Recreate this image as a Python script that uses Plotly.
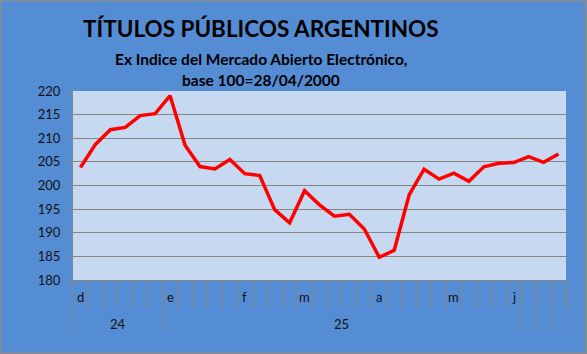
import plotly.graph_objects as go

# ---- data ----
values = [203.8, 208.7, 211.8, 212.3, 214.8, 215.2, 219.0, 208.5, 204.0, 203.5,
          205.5, 202.5, 202.1, 194.9, 192.1, 198.9, 195.9, 193.5, 193.9, 190.8,
          184.8, 186.3, 198.0, 203.45, 201.35, 202.6, 200.9, 203.95, 204.7, 204.85,
          206.1, 204.9, 206.65]
month_labels = ["d", "", "", "", "", "", "e", "", "", "", "", "f", "", "", "", "m",
                "", "", "", "", "a", "", "", "", "", "m", "", "", "", "j", "", "", ""]
year_labels = ["24", "25", "", "", ""]
year_starts = [0, 6, 30, 31, 32]   # first category index of each year group
year_ends = [5, 29, 30, 31, 32]    # last category index of each year group

title = "TÍTULOS PÚBLICOS ARGENTINOS"
subtitle1 = "Ex Indice del Mercado Abierto Electrónico,"
subtitle2 = "base 100=28/04/2000"

# ---- layout constants (pixels) ----
W, H = 587, 354
L, R, T, B = 73, 21, 91, 74
PW, PH = W - L - R, H - T - B

def py(p):  # pixel y -> paper y
    return (H - B - p) / PH

def px(p):  # pixel x -> paper x
    return (p - L) / PW

FONT = "Lato"
BLUE = "#548DD4"
GRID = "#868686"

n = len(values)
x = list(range(n))

fig = go.Figure()
fig.add_trace(go.Scatter(x=x, y=values, mode="lines",
                         line=dict(color="#FF0000", width=3.5),
                         hoverinfo="skip", showlegend=False))

annotations = []
# title
annotations.append(dict(text="<b>" + title + "</b>", x=px(261), y=py(29), xref="paper", yref="paper",
                        showarrow=False, xanchor="center", yanchor="middle",
                        font=dict(family=FONT, size=22.5, color="#000000")))
annotations.append(dict(text="<b>" + subtitle1 + "</b>", x=px(261), y=py(58.5), xref="paper", yref="paper",
                        showarrow=False, xanchor="center", yanchor="middle",
                        font=dict(family=FONT, size=15.5, color="#000000")))
annotations.append(dict(text="<b>" + subtitle2 + "</b>", x=px(261), y=py(80), xref="paper", yref="paper",
                        showarrow=False, xanchor="center", yanchor="middle",
                        font=dict(family=FONT, size=15.5, color="#000000")))
# month labels
for i, lab in enumerate(month_labels):
    if lab:
        annotations.append(dict(text=lab, x=i, y=py(297), xref="x", yref="paper",
                                showarrow=False, xanchor="center", yanchor="middle",
                                font=dict(family=FONT, size=13, color="#111111")))
# year labels
for lab, s, e in zip(year_labels, year_starts, year_ends):
    if lab:
        annotations.append(dict(text=lab, x=(s + e) / 2, y=py(324), xref="x", yref="paper",
                                showarrow=False, xanchor="center", yanchor="middle",
                                font=dict(family=FONT, size=13, color="#111111")))

shapes = []
# long ticks separating year groups
bounds = sorted(set([s - 0.5 for s in year_starts] + [e + 0.5 for e in year_ends]))
for b in bounds:
    shapes.append(dict(type="line", xref="x", yref="paper", x0=b, x1=b,
                       y0=py(280), y1=py(332), line=dict(color=GRID, width=1)))
# outer border
shapes.append(dict(type="rect", xref="paper", yref="paper",
                   x0=px(0.5), x1=px(W - 1), y0=py(0.5), y1=py(H - 1),
                   line=dict(color="#8C8C8C", width=1.5), layer="above"))

fig.update_layout(
    width=W, height=H,
    margin=dict(l=L, r=R, t=T, b=B),
    paper_bgcolor=BLUE, plot_bgcolor="#C6D9F1",
    font=dict(family=FONT, color="#111111"),
    annotations=annotations, shapes=shapes,
    xaxis=dict(type="linear", range=[-0.5, n - 0.5], tickmode="array",
               tickvals=[i - 0.5 for i in range(n + 1)], ticks="outside",
               ticklen=27, tickcolor=GRID, tickwidth=1, showticklabels=False,
               showgrid=False, zeroline=False, showline=True, linecolor=GRID, linewidth=1),
    yaxis=dict(range=[180, 220], dtick=5, tick0=180, ticks="outside", ticklen=5,
               tickcolor=GRID, showgrid=True, gridcolor=GRID, gridwidth=1,
               zeroline=False, showline=True, linecolor=GRID, linewidth=1,
               tickfont=dict(family=FONT, size=13, color="#111111"), ticklabelstandoff=4),
)

fig.write_html("out.html")
